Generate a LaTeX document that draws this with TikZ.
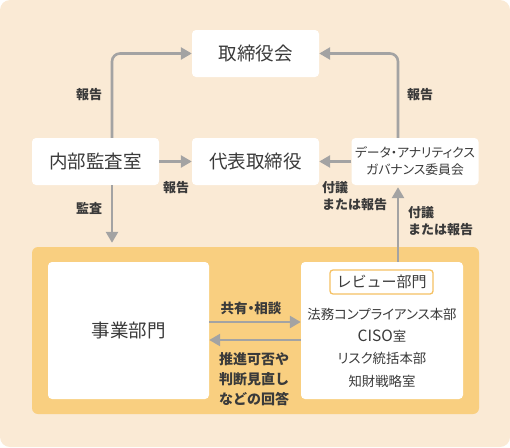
\documentclass[tikz,border=0pt]{standalone}
\usepackage{fontspec}
\setmainfont{Noto Sans CJK JP}
\newfontfamily\pjp{Noto Sans CJK JP}[RawFeature=+palt]
\usetikzlibrary{arrows.meta}
\definecolor{bgc}{HTML}{FAEAD5}
\definecolor{panelc}{HTML}{F9CF80}
\definecolor{tagc}{HTML}{F5C163}
\definecolor{arrc}{HTML}{A3A3A3}
\definecolor{txtc}{HTML}{3A3A3A}
\tikzset{
  box/.style={fill=white, rounded corners=4pt, inner sep=0pt, align=center, text=txtc, font=\fontsize{18.5}{22}\selectfont},
  arr/.style={draw=arrc, line width=2.6pt, -{Triangle[length=11pt,width=12pt]}, rounded corners=8pt},
  lbl/.style={text=txtc, font=\bfseries\fontsize{13}{17}\selectfont, inner sep=0pt, align=left},
}
\begin{document}
\begin{tikzpicture}[x=1pt,y=-1pt]
\useasboundingbox (0,0) rectangle (510,447);
\fill[bgc, rounded corners=10pt] (0,0) rectangle (510,447);
% panel
\node[fill=panelc, rounded corners=6pt, minimum width=447pt, minimum height=167pt, inner sep=0pt] (panel) at (255.5,330.5) {};
% boxes
\node[box, minimum width=127pt, minimum height=47pt] (board) at (255.5,53.5) {取締役会};
\node[box, minimum width=127pt, minimum height=47pt] (audit) at (95.5,161.5) {内部監査室};
\node[box, minimum width=127pt, minimum height=47pt] (ceo) at (255.5,161.5) {代表取締役};
\node[box, minimum width=127pt, minimum height=47pt, font=\pjp\fontsize{12.8}{17}\selectfont] (dagc) at (415,161.5) {データ・アナリティクス\\ガバナンス委員会};
\node[box, minimum width=161pt, minimum height=137pt] (biz) at (128.5,330.5) {事業部門};
\node[box, minimum width=162pt, minimum height=137pt] (review) at (382,330.5) {};
\node[box, draw=tagc, line width=1.3pt, rounded corners=3pt, minimum width=103pt, minimum height=24pt, font=\fontsize{15}{18}\selectfont] (tag) at (381.5,282) {レビュー部門};
\node[text=txtc, font=\pjp\fontsize{13.4}{22.3}\selectfont, align=center, inner sep=0pt] (members) at (382,347.5) {法務コンプライアンス本部\\{\fontsize{15.5}{22.3}\selectfont CISO}室\\リスク統括本部\\知財戦略室};
% guide coordinates
\coordinate (lx) at (112,0);
\coordinate (rx) at (398,0);
\coordinate (ya) at (0,322);
\coordinate (yb) at (0,340);
% connectors
\draw[arr] (audit.north -| lx) |- (board.west);
\draw[arr] (dagc.north -| rx) |- (board.east);
\draw[arr] (audit.east) -- (ceo.west);
\draw[arr] (dagc.west) -- (ceo.east);
\draw[arr, shorten >=4pt] (audit.south -| lx) -- (panel.north -| lx);
\draw[arr, shorten >=2pt] (review.north -| rx) -- (dagc.south -| rx);
\draw[arr] (biz.east |- ya) -- (review.west |- ya);
\draw[arr] (review.west |- yb) -- (biz.east |- yb);
% labels
\node[lbl] (l1) at (89,95) {報告};
\node[lbl] (l2) at (420,95) {報告};
\node[lbl] (l3) at (176,188) {報告};
\node[lbl] (l4) at (89,208) {監査};
\node[lbl, anchor=north west] (l5) at (322,181) {付議\\または報告};
\node[lbl, anchor=north west] (l6) at (408,206) {付議\\または報告};
\node[lbl, font=\pjp\bfseries\fontsize{13.5}{17}\selectfont] (l7) at (251,308) {共有・相談};
\node[lbl, anchor=north west, font=\bfseries\fontsize{14}{20}\selectfont] (l8) at (219,352) {推進可否や\\判断見直し\\などの回答};
\end{tikzpicture}
\end{document}
